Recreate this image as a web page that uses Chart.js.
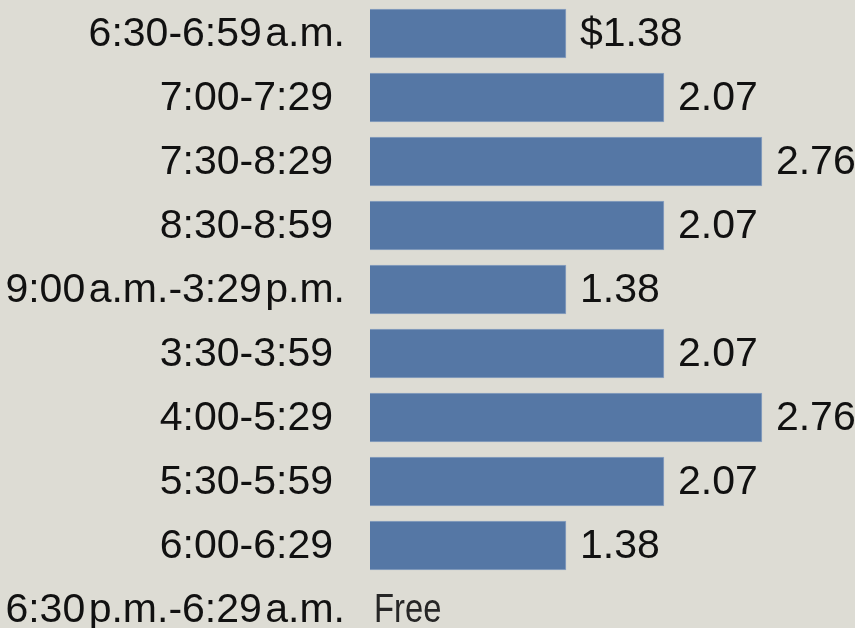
<!DOCTYPE html>
<html>
<head>
<meta charset="utf-8">
<script src="https://cdn.jsdelivr.net/npm/chart.js@4.4.1/dist/chart.umd.min.js"></script>
<style>
  html, body { margin: 0; padding: 0; background: #dddcd4; overflow: hidden; }
  #wrap { position: relative; width: 855px; height: 628px; }
</style>
</head>
<body>
<div id="wrap"><canvas id="c" width="855" height="628"></canvas></div>
<script>
// ---- data ----
const categories = [
  "6:30-6:59\u200Aa.m.",
  "7:00-7:29",
  "7:30-8:29",
  "8:30-8:59",
  "9:00\u200Aa.m.-3:29\u200Ap.m.",
  "3:30-3:59",
  "4:00-5:29",
  "5:30-5:59",
  "6:00-6:29",
  "6:30\u200Ap.m.-6:29\u200Aa.m."
];
const tolls = [1.38, 2.07, 2.76, 2.07, 1.38, 2.07, 2.76, 2.07, 1.38, 0];
const valueLabels = ["$1.38", "2.07", "2.76", "2.07", "1.38", "2.07", "2.76", "2.07", "1.38", "Free"];

const BG = '#dddcd4';
const BAR = '#5577a5';
const TEXT = '#111111';
const FONT = '41px "Liberation Sans", Arial, sans-serif';

const labelPlugin = {
  id: 'labels',
  afterDatasetsDraw(chart) {
    const ctx = chart.ctx;
    const meta = chart.getDatasetMeta(0);
    const yScale = chart.scales.y;
    ctx.save();
    ctx.textBaseline = 'middle';
    categories.forEach((cat, i) => {
      const y = yScale.getPixelForValue(i);
      // category label
      ctx.font = FONT;
      ctx.fillStyle = TEXT;
      ctx.textAlign = 'right';
      const rx = /m\.$/.test(cat) ? 345 : 333;
      ctx.fillText(cat, rx, y + 1);
      // value label
      const bar = meta.data[i];
      const isFree = tolls[i] === 0;
      ctx.textAlign = 'left';
      if (isFree) {
        ctx.save();
        ctx.font = FONT;
        ctx.fillStyle = '#262626';
        ctx.translate(chart.chartArea.left + 4, y + 1);
        ctx.scale(0.8, 1);
        ctx.fillText(valueLabels[i], 0, 0);
        ctx.restore();
      } else {
        ctx.font = FONT;
        ctx.fillStyle = TEXT;
        ctx.fillText(valueLabels[i], bar.x + 14, y + 1);
      }
    });
    ctx.restore();
  }
};

const bgPlugin = {
  id: 'bg',
  beforeDraw(chart) {
    const ctx = chart.ctx;
    ctx.save();
    ctx.fillStyle = BG;
    ctx.fillRect(0, 0, chart.width, chart.height);
    ctx.restore();
  }
};

new Chart(document.getElementById('c'), {
  type: 'bar',
  data: {
    labels: categories,
    datasets: [{
      data: tolls,
      backgroundColor: BAR,
      borderColor: '#8fa4c2',
      borderWidth: 1,
      borderSkipped: 'start',
      barThickness: 49,
      clip: false
    }]
  },
  options: {
    indexAxis: 'y',
    responsive: false,
    animation: false,
    events: [],
    layout: { padding: { left: 370, right: 59, top: 33.5, bottom: 18.5 } },
    plugins: { legend: { display: false }, tooltip: { enabled: false } },
    scales: {
      x: { display: false, min: 0, max: 3 },
      y: { display: false, offset: false, grid: { display: false } }
    }
  },
  plugins: [bgPlugin, labelPlugin]
});
</script>
</body>
</html>
